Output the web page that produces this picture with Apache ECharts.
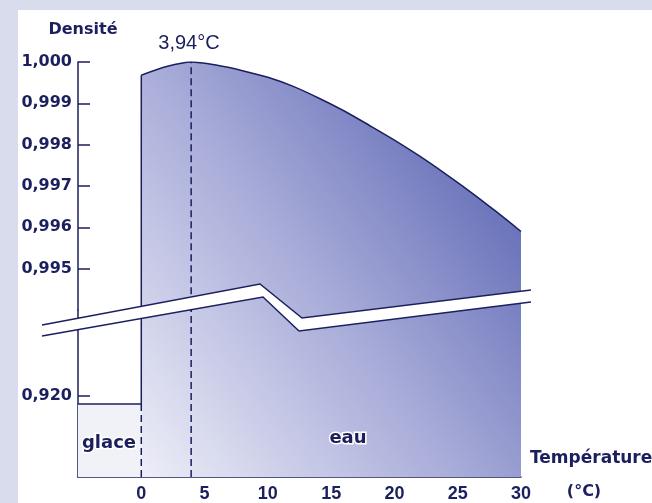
<!DOCTYPE html>
<html><head><meta charset="utf-8">
<script src="https://cdn.jsdelivr.net/npm/echarts@6/dist/echarts.min.js"></script>
<style>html,body{margin:0;padding:0;background:#d9dcec}#c{width:652px;height:503px}</style>
</head><body><div id="c"></div>
<script>
// ---- data ----
const temperatures = [0, 2, 3.94, 6, 8, 10, 12, 14, 16, 18, 20, 22, 24, 26, 28, 30];
const waterDensity = [0.99968, 0.99989, 1.0000, 0.99992, 0.99979, 0.99963, 0.99941, 0.99913, 0.99882, 0.99847, 0.99811, 0.99772, 0.99730, 0.99686, 0.99639, 0.99590];
const iceTemps = [-5, 0];
const iceDensity = [0.9198, 0.9198];
const maxDensityTemp = 3.94;
const upperTicks = [0.995, 0.996, 0.997, 0.998, 0.999, 1.000];
const lowerTicks = [0.920];
const xTickLabels = [0, 5, 10, 15, 20, 25, 30];
const xInnerTicks = [5, 10, 15, 20, 25];

const navy = '#1b1f5e';
const chart = echarts.init(document.getElementById('c'));
const waterPts = temperatures.map((t, i) => [t, waterDensity[i]]);
const icePts = iceTemps.map((t, i) => [t, iceDensity[i]]);
const fmt = v => Number(v).toFixed(3).replace('.', ',');
const grad = new echarts.graphic.LinearGradient(141, 480, 560, 170, [
  {offset: 0, color: '#eeeff8'},
  {offset: 0.5, color: '#a7abd8'},
  {offset: 1, color: '#5660b0'}
], true);

const yLabel = {fontFamily: 'DejaVu Sans', fontWeight: 'bold', fontSize: 16, color: navy, margin: 6, formatter: fmt};
const axLine = {show: true, onZero: false, lineStyle: {color: navy, width: 1.5}};
const tick = vals => ({show: true, inside: true, length: 12, customValues: vals, lineStyle: {color: navy, width: 1.5}});

function vline(xi, pts, dashed) {
  return {type: 'line', xAxisIndex: xi, yAxisIndex: xi, data: pts, showSymbol: false, silent: true,
    lineStyle: {color: navy, width: 1.5, type: dashed ? [7, 4] : 'solid'}, z: 4};
}

chart.setOption({
  animation: false,
  backgroundColor: '#d9dcec',
  grid: [
    {left: 78, right: 131, top: 62, height: 248},
    {left: 78, right: 131, top: 310, height: 170}
  ],
  xAxis: [
    {gridIndex: 0, type: 'value', min: -5, max: 30, show: false},
    {gridIndex: 1, type: 'value', min: -5, max: 30, interval: 5,
      axisLine: {show: true, onZero: false, lineStyle: {color: navy, width: 1.5}},
      axisTick: tick(xInnerTicks),
      axisLabel: {customValues: xTickLabels, fontFamily: 'Liberation Sans', fontWeight: 'bold', fontSize: 18, color: navy, margin: 8},
      splitLine: {show: false}}
  ],
  yAxis: [
    {gridIndex: 0, type: 'value', min: 0.994, max: 1.0, axisLine: axLine, axisTick: tick(upperTicks),
      axisLabel: Object.assign({customValues: upperTicks}, yLabel), splitLine: {show: false}},
    {gridIndex: 1, type: 'value', min: 0.918, max: 0.92212, axisLine: axLine, axisTick: tick(lowerTicks),
      axisLabel: Object.assign({customValues: lowerTicks}, yLabel), splitLine: {show: false}}
  ],
  series: [
    {type: 'line', xAxisIndex: 0, yAxisIndex: 0, data: waterPts, smooth: 0.3, showSymbol: false,
      lineStyle: {color: navy, width: 1.5}, areaStyle: {color: grad, opacity: 1, origin: 'start'}},
    {type: 'line', xAxisIndex: 1, yAxisIndex: 1, data: waterPts, smooth: 0.3, showSymbol: false,
      lineStyle: {width: 0}, areaStyle: {color: grad, opacity: 1, origin: 'start'}},
    {type: 'line', xAxisIndex: 1, yAxisIndex: 1, data: icePts, showSymbol: false,
      lineStyle: {color: navy, width: 1.5}, areaStyle: {color: '#f1f2f8', opacity: 1, origin: 'start'}},
    vline(0, [[0, iceDensity[1]], [0, waterDensity[0]]], false),
    vline(1, [[0, iceDensity[1]], [0, waterDensity[0]]], false),
    vline(1, [[0, 0.918], [0, iceDensity[1]]], true),
    vline(0, [[maxDensityTemp, 0.918], [maxDensityTemp, 1.0]], true),
    vline(1, [[maxDensityTemp, 0.918], [maxDensityTemp, 1.0]], true)
  ],
  graphic: [
    {type: 'rect', shape: {x: 18, y: 10, width: 634, height: 493}, style: {fill: '#ffffff'}, z: -1, silent: true},
    {type: 'polygon', shape: {points: [[42, 325], [260, 284], [302, 318], [531, 290], [531, 302], [299, 331], [263, 297], [42, 336]]},
      style: {fill: '#ffffff'}, z: 100, silent: true},
    {type: 'polyline', shape: {points: [[42, 325], [260, 284], [302, 318], [531, 290]]},
      style: {stroke: navy, lineWidth: 1.5, fill: null}, z: 101, silent: true},
    {type: 'polyline', shape: {points: [[42, 336], [263, 297], [299, 331], [531, 302]]},
      style: {stroke: navy, lineWidth: 1.5, fill: null}, z: 101, silent: true},
    {type: 'text', x: 83, y: 30, z: 102, style: {text: 'Densité', font: 'bold 16px "DejaVu Sans"', fill: navy, align: 'center', verticalAlign: 'middle'}},
    {type: 'text', x: 189, y: 43, z: 102, style: {text: '3,94°C', font: '20px "Liberation Sans"', fill: navy, align: 'center', verticalAlign: 'middle'}},
    {type: 'text', x: 530, y: 459, z: 102, style: {text: 'Température', font: 'bold 17px "DejaVu Sans"', fill: navy, align: 'left', verticalAlign: 'middle'}},
    {type: 'text', x: 584, y: 492, z: 102, style: {text: '(°C)', font: 'bold 16px "DejaVu Sans"', fill: navy, align: 'center', verticalAlign: 'middle'}},
    {type: 'text', x: 109, y: 443, z: 102, style: {text: 'glace', font: 'bold 18px "DejaVu Sans"', fill: navy, stroke: '#ffffff', lineWidth: 3, align: 'center', verticalAlign: 'middle'}},
    {type: 'text', x: 348, y: 438, z: 102, style: {text: 'eau', font: 'bold 18px "DejaVu Sans"', fill: navy, stroke: '#ffffff', lineWidth: 3, align: 'center', verticalAlign: 'middle'}}
  ]
});
</script></body></html>
